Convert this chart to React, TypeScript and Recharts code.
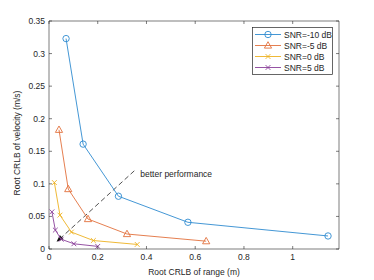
import {
  ReferenceLine,
  Scatter,
  ScatterChart,
  XAxis,
  YAxis,
} from "recharts"

const seriesNames = ["SNR=-10 dB", "SNR=-5 dB", "SNR=0 dB", "SNR=5 dB"]
const snrM10 = [
  { x: 0.07, y: 0.323 },
  { x: 0.14, y: 0.161 },
  { x: 0.285, y: 0.081 },
  { x: 0.57, y: 0.041 },
  { x: 1.145, y: 0.02 },
]
const snrM5 = [
  { x: 0.041, y: 0.183 },
  { x: 0.079, y: 0.092 },
  { x: 0.16, y: 0.046 },
  { x: 0.32, y: 0.023 },
  { x: 0.645, y: 0.012 },
]
const snr0 = [
  { x: 0.022, y: 0.102 },
  { x: 0.045, y: 0.052 },
  { x: 0.092, y: 0.026 },
  { x: 0.182, y: 0.013 },
  { x: 0.362, y: 0.007 },
]
const snr5 = [
  { x: 0.012, y: 0.057 },
  { x: 0.026, y: 0.029 },
  { x: 0.05, y: 0.015 },
  { x: 0.102, y: 0.008 },
  { x: 0.2, y: 0.004 },
]
const xTicks = [0, 0.2, 0.4, 0.6, 0.8, 1]
const yTicks = [0, 0.05, 0.1, 0.15, 0.2, 0.25, 0.3, 0.35]
const xDomain = [0, 1.19]
const yDomain = [0, 0.35]
const arrowFrom = { x: 0.35, y: 0.12 }
const arrowTo = { x: 0.031, y: 0.011 }

const colors = ["#2f8bd0", "#e2703c", "#edb120", "#8a3f9a"]
const markers = ["circle", "triangle", "x", "x"]
const ink = "#262626"
const font = "'Liberation Sans', Arial, sans-serif"

function Marker({ cx, cy, kind, color }: { cx: number; cy: number; kind: string; color: string }) {
  if (kind === "circle")
    return <circle cx={cx} cy={cy} r={3.2} fill="none" stroke={color} strokeWidth={0.9} />
  if (kind === "triangle")
    return (
      <polygon
        points={`${cx},${cy - 3.8} ${cx - 3.6},${cy + 2.6} ${cx + 3.6},${cy + 2.6}`}
        fill="none"
        stroke={color}
        strokeWidth={0.9}
      />
    )
  return (
    <g stroke={color} strokeWidth={0.9}>
      <line x1={cx - 2.4} y1={cy - 2.4} x2={cx + 2.4} y2={cy + 2.4} />
      <line x1={cx - 2.4} y1={cy + 2.4} x2={cx + 2.4} y2={cy - 2.4} />
    </g>
  )
}

const shapeFor = (i: number) => (p: any) =>
  <Marker cx={p.cx} cy={p.cy} kind={markers[i]} color={colors[i]} />

function BottomTick(p: any) {
  return (
    <g>
      <line x1={p.x} y1={p.y} x2={p.x} y2={p.y - 3} stroke={ink} strokeWidth={0.6} />
      <text x={p.x} y={p.y + 11} textAnchor="middle" fontSize={8.5} fill={ink} fontFamily={font}>
        {p.payload.value}
      </text>
    </g>
  )
}
function LeftTick(p: any) {
  return (
    <g>
      <line x1={p.x} y1={p.y} x2={p.x + 3} y2={p.y} stroke={ink} strokeWidth={0.6} />
      <text x={p.x - 4} y={p.y + 3} textAnchor="end" fontSize={8.5} fill={ink} fontFamily={font}>
        {p.payload.value}
      </text>
    </g>
  )
}

// dashed arrow + label; the top/right box edges and their inward ticks are
// placed from the same scaled end points the library hands over
function ArrowShape(p: any) {
  const { x1, y1, x2, y2 } = p
  const a = Math.atan2(y2 - y1, x2 - x1)
  const L = 7
  const w = 2.8
  const bx = x2 - L * Math.cos(a)
  const by = y2 - L * Math.sin(a)
  const nx = -Math.sin(a) * w
  const ny = Math.cos(a) * w

  const sx = (x1 - x2) / (arrowFrom.x - arrowTo.x)
  const sy = (y1 - y2) / (arrowFrom.y - arrowTo.y)
  const mx = (v: number) => x2 + (v - arrowTo.x) * sx
  const my = (v: number) => y2 + (v - arrowTo.y) * sy
  const top = my(yDomain[1])
  const right = mx(xDomain[1])

  return (
    <g>
      <g stroke={ink} strokeWidth={0.6} fill="none">
        <line x1={mx(xDomain[0])} y1={top} x2={right} y2={top} />
        <line x1={right} y1={top} x2={right} y2={my(yDomain[0])} />
        {xTicks.map((t) => (
          <line key={"t" + t} x1={mx(t)} y1={top} x2={mx(t)} y2={top + 3} />
        ))}
        {yTicks.map((t) => (
          <line key={"r" + t} x1={right} y1={my(t)} x2={right - 3} y2={my(t)} />
        ))}
      </g>
      <line x1={x1} y1={y1} x2={bx} y2={by} stroke={ink} strokeWidth={0.8} strokeDasharray="5 3" />
      <polygon points={`${x2},${y2} ${bx + nx},${by + ny} ${bx - nx},${by - ny}`} fill="#111" />
      <text x={x1 + 6} y={y1 + 6} fontSize={8.5} fill={ink} fontFamily={font}>
        better performance
      </text>
    </g>
  )
}

function LegendBox() {
  return (
    <g transform="translate(252,27)">
      <rect x={0.5} y={0.5} width={80} height={47} fill="#fff" stroke={ink} strokeWidth={0.7} />
      {seriesNames.map((n, i) => {
        const y = 7.5 + i * 11
        return (
          <g key={n}>
            <line x1={3} y1={y} x2={29} y2={y} stroke={colors[i]} strokeWidth={0.9} />
            <Marker cx={16} cy={y} kind={markers[i]} color={colors[i]} />
            <text x={32} y={y + 3} fontSize={8.5} fill={ink} fontFamily={font}>
              {n}
            </text>
          </g>
        )
      })}
    </g>
  )
}

const allSeries = [snrM10, snrM5, snr0, snr5]

export default function App() {
  return (
    <div style={{ position: "absolute", left: 0, top: 0, width: 374, height: 280, background: "#fff" }}>
      <ScatterChart width={374} height={280} margin={{ top: 21, right: 35, bottom: 0, left: 0 }}>
        <XAxis
          type="number"
          dataKey="x"
          domain={xDomain}
          ticks={xTicks}
          allowDataOverflow
          stroke={ink}
          strokeWidth={0.6}
          tickLine={false}
          tickSize={0}
          tickMargin={0}
          tick={<BottomTick />}
          height={31}
        />
        <YAxis
          type="number"
          dataKey="y"
          domain={yDomain}
          ticks={yTicks}
          allowDataOverflow
          stroke={ink}
          strokeWidth={0.6}
          tickLine={false}
          tickSize={0}
          tickMargin={0}
          tick={<LeftTick />}
          width={49}
        />
        <ReferenceLine
          segment={[arrowFrom, arrowTo]}
          shape={<ArrowShape />}
          ifOverflow="visible"
        />
        {allSeries.map((d, i) => (
          <Scatter
            key={seriesNames[i]}
            name={seriesNames[i]}
            data={d}
            line={{ stroke: colors[i], strokeWidth: 0.9 }}
            lineType="joint"
            shape={shapeFor(i)}
            isAnimationActive={false}
          />
        ))}
        <LegendBox />
        <text x={194} y={275} textAnchor="middle" fontSize={8.5} fill={ink} fontFamily={font}>
          Root CRLB of range (m)
        </text>
        <text
          x={20}
          y={143}
          textAnchor="middle"
          fontSize={8.5}
          fill={ink}
          fontFamily={font}
          transform="rotate(-90 20 143)"
        >
          Root CRLB of velocity (m/s)
        </text>
      </ScatterChart>
    </div>
  )
}
